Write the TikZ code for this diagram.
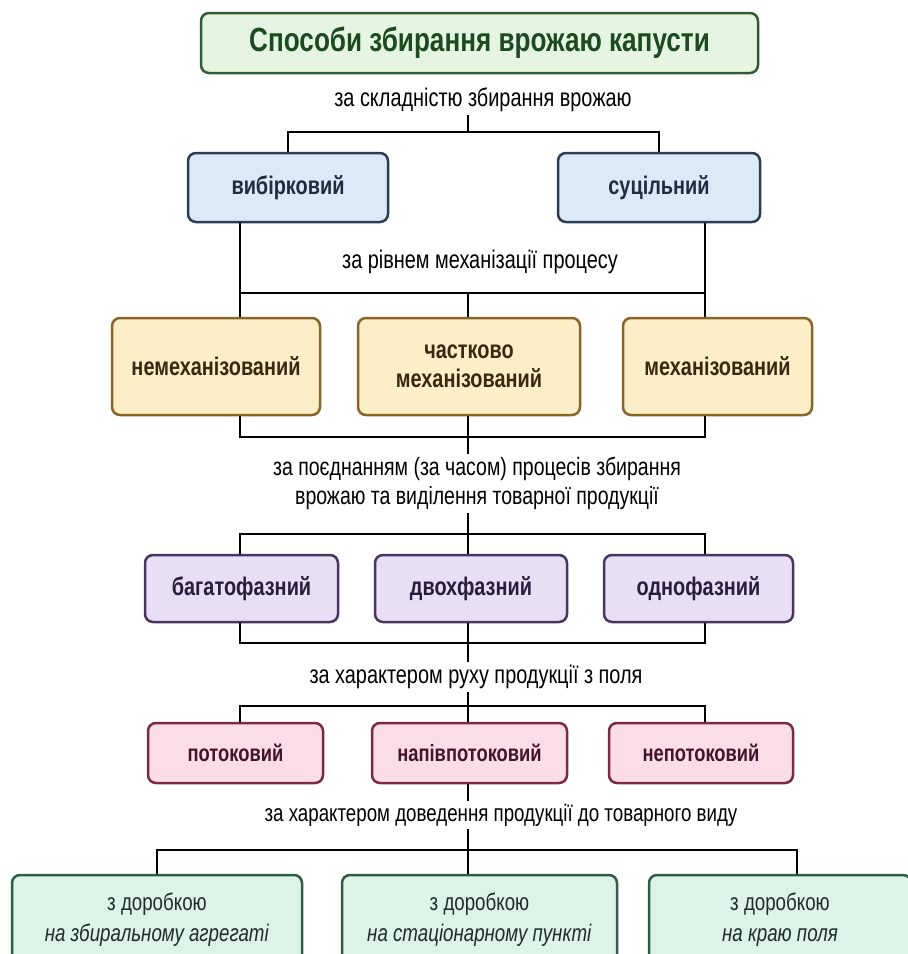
\documentclass[tikz,border=0pt]{standalone}
\usepackage{fontspec}
\setmainfont[FakeStretch=0.78]{Liberation Sans}
\usetikzlibrary{positioning}

\definecolor{ttlfill}{HTML}{E5F5E1} \definecolor{ttldraw}{HTML}{2E5E31} \definecolor{ttltext}{HTML}{1D4A21}
\definecolor{bluefill}{HTML}{DCEAF8} \definecolor{bluedraw}{HTML}{2A3D55} \definecolor{bluetext}{HTML}{1E2D42}
\definecolor{yelfill}{HTML}{FCEFC8} \definecolor{yeldraw}{HTML}{8A6326} \definecolor{yeltext}{HTML}{3A2912}
\definecolor{purfill}{HTML}{E9DFF4} \definecolor{purdraw}{HTML}{4A3460} \definecolor{purtext}{HTML}{2A1C3D}
\definecolor{pinkfill}{HTML}{FADDE6} \definecolor{pinkdraw}{HTML}{7B2A44} \definecolor{pinktext}{HTML}{44142A}
\definecolor{grnfill}{HTML}{DDF3E8} \definecolor{grndraw}{HTML}{2E5C47} \definecolor{grntext}{HTML}{1E2E27}

\tikzset{
	conn/.style={line width=2.6pt},
	box/.style={draw, rounded corners=8pt, line width=2.5pt, align=center, inner sep=0pt, font=\bfseries\fontsize{25.5}{29}\selectfont},
	ttlbox/.style={box, fill=ttlfill, draw=ttldraw, text=ttltext, minimum width=557pt, minimum height=60pt, font=\bfseries\fontsize{33.5}{38}\selectfont},
	bluebox/.style={box, fill=bluefill, draw=bluedraw, text=bluetext, minimum height=69pt},
	yelbox/.style={box, fill=yelfill, draw=yeldraw, text=yeltext, minimum height=97pt},
	purbox/.style={box, fill=purfill, draw=purdraw, text=purtext, minimum height=67pt},
	pinkbox/.style={box, fill=pinkfill, draw=pinkdraw, text=pinktext, minimum height=60pt, font=\bfseries\fontsize{23.5}{29}\selectfont},
	grnbox/.style={box, fill=grnfill, draw=grndraw, text=grntext, minimum height=90pt, font=\fontsize{24}{31}\selectfont},
	crit/.style={align=center, inner sep=3pt, font=\fontsize{25.5}{29}\selectfont}
}

\begin{document}
\begin{tikzpicture}[x=1pt, y=-1pt]
	\clip (0,0) rectangle (908,954);
	\fill[white] (0,0) rectangle (908,954);
	% columns of the connectors
	\coordinate (cl) at (240,0); \coordinate (cm) at (468,0); \coordinate (cr) at (705,0); \coordinate (cg) at (797,0);

	\node[ttlbox] (title) at (479.5,43) {Способи збирання врожаю капусти};

	\node[crit] (critA) at (483,100) {за складністю збирання врожаю};
	\node[bluebox, minimum width=200pt] (vybir) at (288,187.5) {вибірковий};
	\node[bluebox, minimum width=202pt] (sutsil) at (659,187.5) {суцільний};

	\node[crit] (critB) at (480,262) {за рівнем механізації процесу};
	\node[yelbox, minimum width=208pt] (nemekh) at (216,366.5) {немеханізований};
	\node[yelbox, minimum width=222pt] (chastk) at (469,366.5) {частково\\механізований};
	\node[yelbox, minimum width=189pt] (mekh) at (717.5,366.5) {механізований};

	\node[crit, font=\fontsize{25}{29}\selectfont] (critC) at (477,483.5) {за поєднанням (за часом) процесів збирання\\врожаю та виділення товарної продукції};
	\node[purbox, minimum width=193pt] (bahato) at (241.5,588.5) {багатофазний};
	\node[purbox, minimum width=192pt] (dvokh) at (471,588.5) {двохфазний};
	\node[purbox, minimum width=189pt] (odno) at (698.5,588.5) {однофазний};

	\node[crit] (critD) at (476,677) {за характером руху продукції з поля};
	\node[pinkbox, minimum width=175pt] (potok) at (235.5,753) {потоковий};
	\node[pinkbox, minimum width=195pt] (napiv) at (469.5,753) {напівпотоковий};
	\node[pinkbox, minimum width=184pt] (nepotok) at (701,753) {непотоковий};

	\node[crit, font=\fontsize{24}{29}\selectfont] (critE) at (501,815) {за характером доведення продукції до товарного виду};
	\node[grnbox, minimum width=290pt] (dorA) at (157,920) {з доробкою\\\textit{на збиральному агрегаті}};
	\node[grnbox, minimum width=275pt] (dorB) at (479.5,920) {з доробкою\\\textit{на стаціонарному пункті}};
	\node[grnbox, minimum width=262pt] (dorC) at (780,920) {з доробкою\\\textit{на краю поля}};

	% junctions
	\coordinate (jA) at (468,132); \coordinate (jB) at (468,293); \coordinate (jC) at (468,437);
	\coordinate (jD) at (468,534); \coordinate (jE) at (468,643); \coordinate (jF) at (468,706); \coordinate (jG) at (468,850);

	\draw[conn] (critA.south -| cm) -- (jA);
	\draw[conn] (vybir.north) |- (jA) -| (sutsil.north);

	\draw[conn] (vybir.south -| cl) -- (nemekh.north -| cl);
	\draw[conn] (sutsil.south -| cr) -- (mekh.north -| cr);
	\draw[conn] (jB -| cl) -- (jB -| cr);
	\draw[conn] (jB) -- (chastk.north -| cm);

	\draw[conn] (nemekh.south -| cl) |- (jC) -| (mekh.south -| cr);
	\draw[conn] (chastk.south -| cm) -- (critC.north -| cm);

	\draw[conn] (critC.south -| cm) -- (dvokh.north -| cm);
	\draw[conn] (bahato.north -| cl) |- (jD) -| (odno.north -| cr);

	\draw[conn] (bahato.south -| cl) |- (jE) -| (odno.south -| cr);
	\draw[conn] (dvokh.south -| cm) -- (critD.north -| cm);

	\draw[conn] (critD.south -| cm) -- (napiv.north -| cm);
	\draw[conn] (potok.north -| cl) |- (jF) -| (nepotok.north -| cr);

	\draw[conn] (napiv.south -| cm) -- (critE.north -| cm);

	\draw[conn] (critE.south -| cm) -- (dorB.north -| cm);
	\draw[conn] (dorA.north) |- (jG) -| (dorC.north -| cg);
\end{tikzpicture}
\end{document}
